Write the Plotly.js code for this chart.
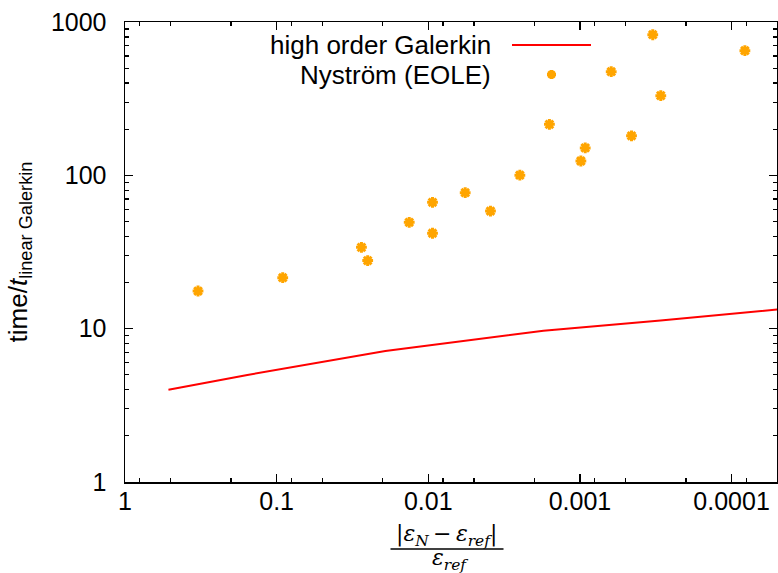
<!DOCTYPE html>
<html>
<head>
<meta charset="utf-8">
<script src="https://cdn.plot.ly/plotly-3.0.1.min.js"></script>
<style>html,body{margin:0;padding:0;background:#fff;}#chart{width:778px;height:573px;}</style>
</head>
<body>
<div id="chart"></div>
<script>
// High order Galerkin timings (relative error vs. time ratio)
var galerkinErr  = [0.517, 0.156, 0.0192, 0.00174, 0.000294, 0.0000809, 0.00004];
var galerkinTime = [4.0, 4.99, 7.15, 9.70, 11.3, 12.8, 13.6];

// Nyström (EOLE) timings
var nystromErr  = [0.330, 0.0912, 0.0276, 0.0251, 0.01336, 0.00938, 0.00938, 0.00571, 0.00389,
                   0.00249, 0.00159, 0.000986, 0.000923, 0.000622, 0.000457, 0.000331, 0.000293, 0.0000817];
var nystromTime = [17.6, 21.5, 33.9, 27.8, 49.4, 66.7, 41.9, 77.1, 58.5,
                   100.2, 215, 124, 151, 474, 181, 826, 331, 650];

// Tick labels
var xTickVals = [1, 0.1, 0.01, 0.001, 0.0001];
var xTickText = ["1", "0.1", "0.01", "0.001", "0.0001"];
var xMinorVals = [0.8, 0.5, 0.2, 0.08, 0.05, 0.02, 0.008, 0.005, 0.002, 0.0008, 0.0005, 0.0002, 0.00008, 0.00005];
var yTickVals = [1, 10, 100, 1000];
var yTickText = ["1", "10", "100", "1000"];
var yMinorVals = [2,3,4,5,6,7,8,9,20,30,40,50,60,70,80,90,200,300,400,500,600,700,800,900];

var FONT = "Liberation Sans, Arial, sans-serif";
var MATH = "DejaVu Serif, Liberation Serif, serif";

var traces = [
  {
    x: galerkinErr, y: galerkinTime, type: "scatter", mode: "lines",
    name: "high order Galerkin",
    line: {color: "#ff0000", width: 2},
    showlegend: false, cliponaxis: true
  },
  {
    x: nystromErr, y: nystromTime, type: "scatter", mode: "markers",
    name: "Nyström (EOLE)",
    marker: {symbol: "asterisk-open", size: 9, color: "#ffa500", line: {color: "#ffa500", width: 3}},
    showlegend: false
  }
];

function px2x(p) { return (p - 125) / 652; }
function px2y(p) { return (482 - p) / 460; }

var layout = {
  width: 778, height: 573,
  margin: {l: 125, r: 1, t: 22, b: 91, pad: 0},
  paper_bgcolor: "#fff", plot_bgcolor: "#fff",
  font: {family: FONT, size: 25, color: "#000"},
  showlegend: false,
  xaxis: {
    type: "log", autorange: false, range: [0, -4.2995],
    tickmode: "array", tickvals: xTickVals, ticktext: xTickText,
    ticks: "inside", ticklen: 8, tickwidth: 1.5, tickcolor: "#000",
    minor: {tickmode: "array", tickvals: xMinorVals, ticks: "inside", ticklen: 4, tickwidth: 1.3, tickcolor: "#000", showgrid: false},
    showline: true, linecolor: "#000", linewidth: 1.5, mirror: "ticks",
    showgrid: false, zeroline: false,
    tickfont: {family: FONT, size: 25, color: "#000"},
    ticklabelstandoff: -4
  },
  yaxis: {
    type: "log", autorange: false, range: [0, 3],
    tickmode: "array", tickvals: yTickVals, ticktext: yTickText,
    ticks: "inside", ticklen: 8, tickwidth: 1.5, tickcolor: "#000",
    minor: {tickmode: "array", tickvals: yMinorVals, ticks: "inside", ticklen: 4, tickwidth: 1.3, tickcolor: "#000", showgrid: false},
    showline: true, linecolor: "#000", linewidth: 1.5, mirror: "ticks",
    showgrid: false, zeroline: false,
    tickfont: {family: FONT, size: 25, color: "#000"},
    ticklabelstandoff: 12,
    title: {text: "time/<i>t</i><sub>linear Galerkin</sub>", font: {family: FONT, size: 26, color: "#000"}, standoff: 16}
  },
  shapes: [
    {type: "line", xref: "paper", yref: "paper", x0: px2x(512), x1: px2x(591), y0: px2y(45), y1: px2y(45),
     line: {color: "#ff0000", width: 2}},
    {type: "path", xref: "paper", yref: "paper", xsizemode: "pixel", ysizemode: "pixel",
     xanchor: px2x(551.5), yanchor: px2y(74.5),
     path: "M-4.5,0H4.5M0,-4.5V4.5M-3.2,-3.2L3.2,3.2M-3.2,3.2L3.2,-3.2",
     line: {color: "#ffa500", width: 3}},
    {type: "line", xref: "paper", yref: "paper", x0: px2x(390.5), x1: px2x(503.5), y0: px2y(549), y1: px2y(549),
     line: {color: "#000", width: 1.3}}
  ],
  annotations: [
    {xref: "paper", yref: "paper", x: px2x(493), y: px2y(45), xanchor: "right", yanchor: "middle",
     text: "high order Galerkin", showarrow: false, font: {family: FONT, size: 26, color: "#000"}},
    {xref: "paper", yref: "paper", x: px2x(493), y: px2y(75), xanchor: "right", yanchor: "middle",
     text: "Nyström (EOLE)", showarrow: false, font: {family: FONT, size: 26, color: "#000"}},
    {xref: "paper", yref: "paper", x: px2x(446), y: px2y(535), xanchor: "center", yanchor: "middle",
     text: "|<i>ε</i><sub><i>N</i></sub>\u2009−\u2009<i>ε</i><sub><i>ref</i></sub>|", showarrow: false,
     font: {family: MATH, size: 22, color: "#000"}},
    {xref: "paper", yref: "paper", x: px2x(450), y: px2y(559), xanchor: "center", yanchor: "middle",
     text: "<i>ε</i><sub><i>ref</i></sub>", showarrow: false,
     font: {family: MATH, size: 22, color: "#000"}}
  ]
};

Plotly.newPlot("chart", traces, layout, {displayModeBar: false, staticPlot: true});
</script>
</body>
</html>
